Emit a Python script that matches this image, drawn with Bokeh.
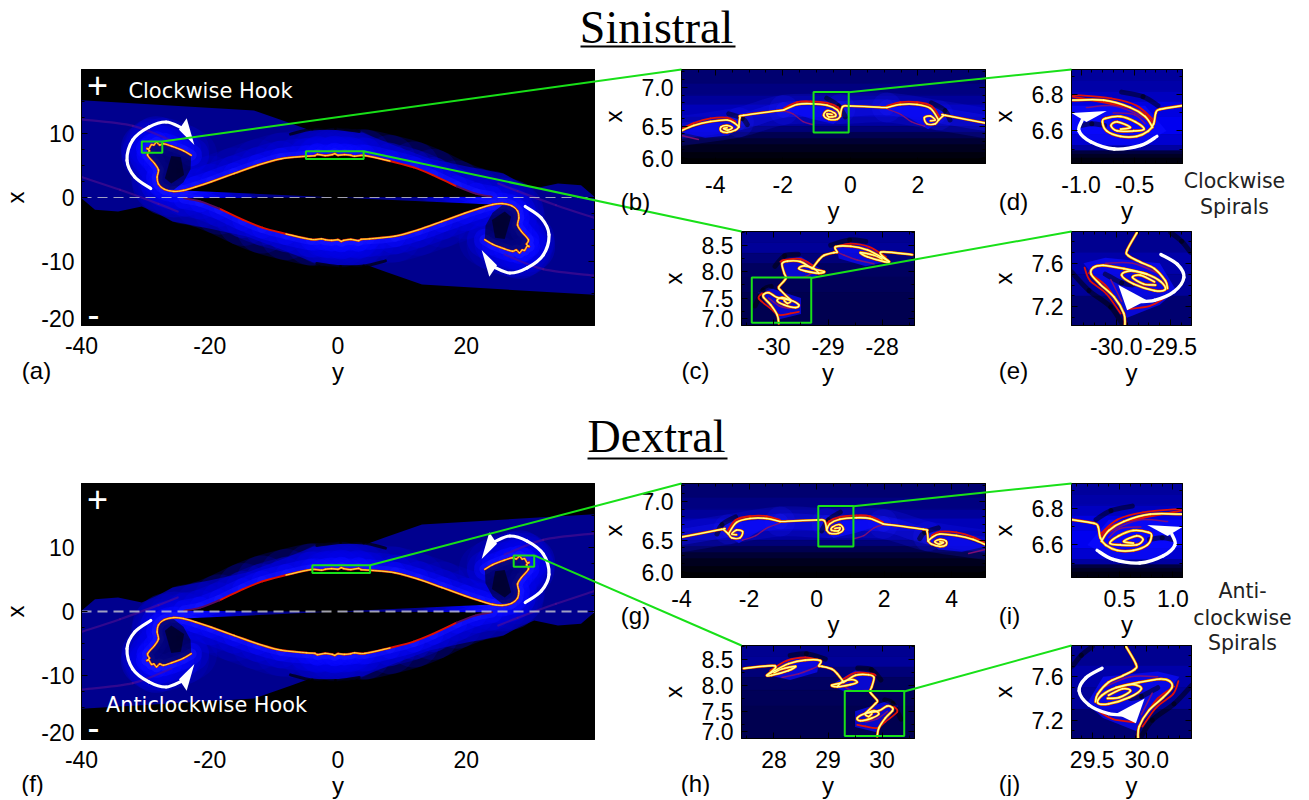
from bokeh.plotting import figure
from bokeh.models import Range1d, FixedTicker, LinearAxis, CustomJSTickFormatter, Column
from bokeh.embed import file_html
from bokeh.resources import INLINE
from bokeh.core.properties import value

# ---- panel (a) values: (y, x)
ENV_TOP_Y = [-40, -13.1, -7.4, -4.6, -0.4, 3.9, 8.1, 14.2, 20.3, 25.8, 28.2, 30.6, 34.3, 37.9, 40]
ENV_TOP_X = [15.2, 13.6, 11.6, 10.6, 10.6, 10.1, 8.4, 6.1, 4.8, 3.75, 2.45, 1.4, 2.2, 1.9, 0.1]
FIL_Y = [-22.9, -24.1, -25.9, -27.2, -27.8, -28.3, -28.7, -29.1, -29.5, -29.8, -29.4, -29.7, -28.6, -28.0, -28.2, -28.0,
         -27.1, -25.6, -24.1, -22.2, -19.8, -16.2, -12.5, -8.9, -4.9, -3.6, -3.2, -2.0, -0.9, -0.5, 0, 1.0, 2.0, 2.6, 4.2, 8.1]
FIL_X = [6.6, 7.3, 8.0, 8.4, 8.2, 8.65, 8.2, 8.25, 7.6, 7.65, 7.3, 6.6, 5.3, 4.3, 3.2, 2.1,
         1.3, 0.95, 1.1, 1.65, 2.45, 3.75, 5.05, 6.05, 6.45, 6.55, 6.75, 6.55, 6.7, 6.85, 6.6, 6.7, 6.6, 6.45, 6.55, 5.7]
RED_Y = [8.1, 11.8, 14.8, 18.5]
RED_X = [5.7, 4.7, 3.5, 1.75]
FAINT_Y = [18.5, 21.5, 24]
FAINT_X = [1.75, 0.6, 0.1]
EYE_Y = [-24.1, -22.2, -19.8, -16.2, -12.5, -8.9, -4.9, -0.4, 4.2, 8.1, 11.8, 14.8, 18.5, 21.5, 24]
EYE_X = [1.1, 1.65, 2.45, 3.75, 5.05, 6.05, 6.45, 6.65, 6.55, 5.7, 4.7, 3.5, 1.75, 0.6, 0.1]
HOOK_Y = [-22.9, -24.1, -25.9, -27.2, -28.3, -29.8, -29.7, -28.6, -28.0, -28.2, -28.0, -27.1, -25.6, -24.1, -23.0]
HOOK_X = [6.6, 7.3, 8.0, 8.4, 8.65, 7.65, 6.6, 5.3, 4.3, 3.2, 2.1, 1.3, 1.2, 2.4, 4.4]
HOOK_CORE_Y = [-27, -26, -24.5, -24, -26]
HOOK_CORE_X = [3, 6.5, 6.3, 3.5, 2.2]
STREAK_Y = [[-40, -32, -26], [-40, -34, -28, -25]]
STREAK_X = [[12.2, 11.2, 8.9], [3.2, 1.2, -1.0, -2.2]]
CRESCENT_Y = [-7.4, -4, -0.4, 3.3]
CRESCENT_X = [9.9, 10.7, 10.8, 10.3]
ARROW_A_Y = [-29.2, -31.7, -32.9, -32, -29.5, -26.8, -24.4]
ARROW_A_X = [1.4, 3.2, 5.8, 9, 11, 11.8, 10.9]
HEAD_A_Y = [-23.6, -22.4, -24.8]
HEAD_A_X = [12.4, 8.2, 10.6]

# ---- panel (b)
B_ARCS_Y = [[-5.01, -4.64, -4.14, -3.65, -3.43, -3.30], [-1.97, -1.58, -1.18, -0.69, -0.39, -0.30], [1.08, 1.48, 1.97, 2.37, 2.61]]
B_ARCS_X = [[6.44, 6.51, 6.56, 6.58, 6.54, 6.49], [6.71, 6.78, 6.79, 6.77, 6.71, 6.63], [6.74, 6.78, 6.78, 6.73, 6.58]]
B_MAIN_Y = [[-3.30, -3.40, -3.65, -3.83, -3.83, -3.65, -3.50, -3.63, -3.75, -3.65],
            [-3.30, -3.27, -3.16, -1.97],
            [-0.30, -0.39, -0.64, -0.79, -0.69, -0.47, -0.44, -0.64, -0.69, -0.54],
            [-0.30, -0.23, 0, 1.08],
            [2.61, 2.51, 2.27, 2.19, 2.37, 2.51, 2.37],
            [2.61, 2.76, 2.81, 4.0]]
B_MAIN_X = [[6.49, 6.45, 6.42, 6.44, 6.49, 6.51, 6.48, 6.45, 6.47, 6.48],
            [6.49, 6.61, 6.64, 6.71],
            [6.63, 6.59, 6.59, 6.64, 6.70, 6.67, 6.63, 6.62, 6.66, 6.65],
            [6.63, 6.75, 6.76, 6.74],
            [6.58, 6.53, 6.53, 6.61, 6.63, 6.58, 6.57],
            [6.58, 6.64, 6.64, 6.54]]
B_RED_Y = [[-5.01, -4.64, -4.14, -3.65, -3.40], [-1.97, -1.58, -1.18, -0.69, -0.36, -0.27], [1.08, 1.48, 1.97, 2.40, 2.66]]
B_RED_X = [[6.46, 6.54, 6.60, 6.61, 6.56], [6.73, 6.81, 6.82, 6.80, 6.74, 6.65], [6.76, 6.81, 6.81, 6.76, 6.60]]
B_PURPLE_Y = [[-1.97, -1.7, -1.4, -1.1], [1.1, 1.5, 1.8, 2.2], [-5, -4.5]]
B_PURPLE_X = [[6.70, 6.66, 6.56, 6.52], [6.72, 6.65, 6.56, 6.50], [6.38, 6.33]]
B_LOBE_Y = [[-5, -4.5, -4, -3.3, -3.6, -4.3], [-1.97, -1.5, -0.8, -0.3, -0.5, -1.2], [1.1, 1.7, 2.4, 2.6, 2.3, 1.7]]
B_LOBE_X = [[6.42, 6.5, 6.55, 6.5, 6.38, 6.35], [6.71, 6.76, 6.75, 6.6, 6.53, 6.6], [6.73, 6.76, 6.72, 6.55, 6.46, 6.62]]
B_DARK_Y = [[-0.7, -0.35, -0.15], [-3.6, -3.2, -3.05], [2.4, 2.8, 2.95]]
B_DARK_X = [[6.86, 6.76, 6.62], [6.66, 6.60, 6.52], [6.80, 6.70, 6.58]]
B_GLOW_Y = [[-5.01, -3.3, -1.97, -0.3, 1.08, 2.61, 4.0]]
B_GLOW_X = [[6.44, 6.55, 6.71, 6.72, 6.74, 6.64, 6.54]]
B_BG_LEVELS = [7.23, 7.05, 6.9, 6.78, 6.62, 6.5, 6.42, 6.34, 6.26, 6.16, 6.08, 6.02]
B_BG_COLORS = ["#000070", "#000080", "#00009a", "#0000b8", "#0000a0", "#000078", "#000050", "#000034", "#00001e", "#00000e", "#000004"]

# ---- panel (c)
C_MAIN_Y = [[-29.91, -29.94, -30.06, -30.19, -30.19, -30.09, -29.94, -29.69, -29.54, -29.6, -29.81, -29.94, -29.85, -29.69, -29.75, -29.81],
            [-29.69, -29.88, -29.91, -29.78, -29.81, -29.85, -29.75, -29.51, -29.29, -29.07, -29.17, -29.41, -29.54, -29.44, -29.26, -29.17],
            [-29.29, -29.17, -29.07, -28.89, -28.83, -28.86, -28.58, -28.27, -28.02, -27.87, -27.96, -28.27, -28.4, -28.15, -28.0],
            [-27.87, -28.02, -27.44]]
C_MAIN_X = [[7.02, 7.18, 7.37, 7.51, 7.57, 7.6, 7.51, 7.46, 7.37, 7.32, 7.37, 7.45, 7.51, 7.45, 7.4, 7.45],
            [7.46, 7.65, 7.71, 7.87, 7.97, 8.15, 8.2, 8.19, 8.06, 8.0, 7.97, 8.01, 8.06, 8.11, 8.06, 7.97],
            [8.06, 8.22, 8.31, 8.36, 8.37, 8.47, 8.48, 8.41, 8.28, 8.19, 8.19, 8.28, 8.36, 8.31, 8.24],
            [8.19, 8.37, 8.32]]
C_RED_Y = [[-30.22, -30.28, -30.06, -29.91, -29.69, -29.54], [-29.88, -29.81, -29.51, -29.26], [-28.83, -28.58, -28.24, -27.93]]
C_RED_X = [[7.59, 7.49, 7.3, 7.18, 7.21, 7.24], [8.19, 8.22, 8.24, 8.1], [8.48, 8.53, 8.47, 8.28]]
C_PURPLE_Y = [[-28.83, -28.7, -28.46, -28.15], [-29.75, -29.44, -29.26], [-30.1, -29.9, -29.7]]
C_PURPLE_X = [[8.37, 8.31, 8.22, 8.15], [7.9, 7.9, 8.0], [7.5, 7.35, 7.3]]
C_LOBE_Y = [[-30.3, -30.1, -29.5, -29.5, -29.9], [-29.9, -29.5, -29.05, -29.3, -29.8], [-28.85, -28.3, -27.85, -28.3, -28.8]]
C_LOBE_X = [[7.6, 7.7, 7.5, 7.2, 7.1], [8.2, 8.28, 8.0, 7.88, 7.88], [8.5, 8.5, 8.2, 8.1, 8.25]]
C_DARK_Y = [[-30.35, -30.2, -30.05], [-29.98, -29.8, -29.55], [-28.95, -28.6, -28.3]]
C_DARK_X = [[7.35, 7.65, 7.72], [8.1, 8.3, 8.33], [8.5, 8.6, 8.57]]
C_BG_LEVELS = [8.76, 8.55, 8.35, 8.15, 7.9, 7.6, 6.98]
C_BG_COLORS = ["#000090", "#000098", "#000078", "#000060", "#000058", "#000050"]

# ---- panel (d)
D_MAIN_Y = [[-0.05, -0.26, -0.30, -0.32, -0.37, -0.48, -0.63, -0.76, -0.80, -0.77, -0.63, -0.49, -0.41, -0.51, -0.66, -0.72, -0.66, -0.54, -0.63],
            [-1.08, -0.79, -0.54, -0.40, -0.33]]
D_MAIN_X = [[6.74, 6.72, 6.70, 6.64, 6.60, 6.57, 6.57, 6.60, 6.65, 6.67, 6.68, 6.65, 6.61, 6.60, 6.60, 6.63, 6.65, 6.62, 6.61],
            [6.77, 6.77, 6.73, 6.68, 6.62]]
D_RED_Y = [[-1.08, -0.72, -0.48, -0.32], [-1.08, -0.72, -0.45, -0.33]]
D_RED_X = [[6.80, 6.78, 6.74, 6.66], [6.79, 6.75, 6.71, 6.65]]
D_PURPLE_Y = [[-0.95, -0.7, -0.5, -0.38], [-0.7, -0.5, -0.4]]
D_PURPLE_X = [[6.73, 6.74, 6.70, 6.66], [6.70, 6.69, 6.64]]
D_LOBE_Y = [[-1.09, -0.4, -0.2, -0.45, -0.8, -1.09]]
D_LOBE_X = [[6.74, 6.74, 6.6, 6.52, 6.52, 6.6]]
D_DARK_Y = [[-0.62, -0.42, -0.28], [-1.0, -0.9, -0.78]]
D_DARK_X = [[6.815, 6.79, 6.74], [6.63, 6.64, 6.63]]
D_BG_LEVELS = [6.94, 6.88, 6.82, 6.76, 6.68, 6.58, 6.52, 6.49, 6.47, 6.45, 6.42]
D_BG_COLORS = ["#00009c", "#0000a8", "#0000c0", "#0000e0", "#0000f0", "#0000d0", "#0000a0", "#000040", "#000024", "#000010"]
D_ARROW_Y = [-0.29, -0.44, -0.69, -0.91, -1.02, -0.99]
D_ARROW_X = [6.57, 6.52, 6.50, 6.54, 6.60, 6.66]
D_HEAD_Y = [-1.09, -0.76, -0.95]
D_HEAD_X = [6.70, 6.71, 6.65]

# ---- panel (e)
E_MAIN_Y = [[-29.92, -29.93, -30.02, -30.15, -30.23, -30.21, -30.12, -29.93, -29.72, -29.59, -29.55, -29.65, -29.84, -29.95, -29.87, -29.72],
            [-29.64, -29.75, -29.85, -29.78, -29.65],
            [-29.81, -29.90, -29.89, -29.78, -29.65, -29.55, -29.53]]
E_MAIN_X = [[7.03, 7.14, 7.29, 7.41, 7.50, 7.56, 7.58, 7.55, 7.50, 7.43, 7.36, 7.35, 7.41, 7.49, 7.53, 7.50],
            [7.40, 7.41, 7.47, 7.49, 7.43],
            [7.88, 7.72, 7.67, 7.61, 7.55, 7.44, 7.37]]
E_RED_Y = [[-30.29, -30.24, -30.09, -29.96], [-29.89, -29.69, -29.56], [-30.25, -30.1, -29.97]]
E_RED_X = [[7.56, 7.44, 7.32, 7.14], [7.18, 7.21, 7.28], [7.51, 7.40, 7.22]]
E_PURPLE_Y = [[-30.1, -29.85, -29.6], [-30.05, -29.95]]
E_PURPLE_X = [[7.60, 7.60, 7.50], [7.45, 7.25]]
E_LOBE_Y = [[-30.3, -30.1, -29.6, -29.45, -29.6, -29.9]]
E_LOBE_X = [[7.6, 7.65, 7.6, 7.35, 7.22, 7.1]]
E_DARK_Y = [[-30.41, -30.25, -30.05, -29.95], [-30.1, -29.95, -29.85], [-29.5, -29.4, -29.32]]
E_DARK_X = [[7.52, 7.35, 7.2, 7.05], [7.5, 7.42, 7.40], [7.88, 7.8, 7.7]]
E_BG_LEVELS = [7.89, 7.7, 7.5, 7.3, 7.03]
E_BG_COLORS = ["#000090", "#0000a8", "#000098", "#000070"]
E_ARROW_Y = [-29.59, -29.44, -29.38, -29.47, -29.65, -29.80]
E_ARROW_X = [7.68, 7.59, 7.47, 7.34, 7.26, 7.25]
E_HEAD_Y = [-29.98, -29.9, -29.72]
E_HEAD_X = [7.40, 7.17, 7.26]

# ---- ticks
A_XT = [-40, -20, 0, 20]
A_XL = ["-40", "-20", "0", "20"]
A_YT = [10, 0, -10, -18.9]
A_YL = ["10", "0", "-10", "-20"]
B_YT = [7.0, 6.5, 6.09]
B_YL = ["7.0", "6.5", "6.0"]
C_YT = [8.5, 8.0, 7.5, 7.12]
C_YL = ["8.5", "8.0", "7.5", "7.0"]
D_YT = [6.8, 6.6]
D_YL = ["6.8", "6.6"]
E_YT = [7.6, 7.2]
E_YL = ["7.6", "7.2"]

TITLES = ["Sinistral", "Dextral"]
PANEL_TAGS = ["(a)", "(b)", "(c)", "(d)", "(e)", "(f)", "(g)", "(h)", "(i)", "(j)"]

# all children of one Column share their left and right borders, so they all use the same L and R
L, R, T, B = 90, 8, 8, 62
FONT = "Liberation Sans"
GREEN = "#18e018"


def neg(a):
    return [-v for v in a]


def neg2(a):
    return [[-v for v in s] for s in a]


def rev(a):
    return list(reversed(a))


def make(frame, xr, yr, xticks, xlabels, yticks, ylabels, xstand, ystand, lstand, xmin, ymin):
    left, top, right, bottom = frame
    p = figure(width=right - left + L + R, height=bottom - top + T + B, output_backend="svg", toolbar_location=None,
               x_range=Range1d(*xr), y_range=Range1d(*yr), min_border_left=L, min_border_right=R, min_border_top=T,
               min_border_bottom=B, background_fill_color="black", border_fill_alpha=0, outline_line_color="black",
               tools="")
    p.grid.visible = False
    p.add_layout(LinearAxis(), "above")
    p.add_layout(LinearAxis(), "right")
    for ax, tk, lb, st, mn in ((p.below[0], xticks, xlabels, xstand, xmin), (p.left[0], yticks, ylabels, ystand, ymin),
                               (p.above[0], xticks, None, 0, xmin), (p.right[0], yticks, None, 0, ymin)):
        ax.ticker = FixedTicker(ticks=tk, minor_ticks=mn)
        if lb:
            ax.major_label_overrides = {(int(k) if float(k).is_integer() else float(k)): l for k, l in zip(tk, lb)}
        else:
            ax.formatter = CustomJSTickFormatter(code="return ''")
        ax.major_label_text_font = FONT
        ax.major_label_text_font_size = "23px"
        ax.major_label_text_color = "black"
        ax.major_label_standoff = st
        ax.major_tick_in = 6
        ax.major_tick_out = 0
        ax.minor_tick_in = 3
        ax.minor_tick_out = 0
        ax.major_tick_line_color = "black"
        ax.minor_tick_line_color = "black"
        ax.axis_line_color = "black"
        ax.axis_label_text_font = FONT
        ax.axis_label_text_font_style = "normal"
        ax.axis_label_text_font_size = "24px"
        ax.axis_label_text_color = "black"
    p.below[0].axis_label = "y"
    p.left[0].axis_label = "x"
    p.below[0].axis_label_standoff = 1
    p.left[0].axis_label_standoff = lstand
    p.styles = {"position": "absolute", "left": f"{left}px", "top": f"{top - T}px"}
    return p


def sm(p, ys, xs, **kw):
    """draw each read polyline as a smooth path through its read points"""
    x0, y0, x1, y1, a0, b0, a1, b1 = [], [], [], [], [], [], [], []
    for yy, xx in zip(ys, xs):
        n = len(yy)
        for k in range(n - 1):
            i0, i3 = max(k - 1, 0), min(k + 2, n - 1)
            x0.append(yy[k]); y0.append(xx[k]); x1.append(yy[k + 1]); y1.append(xx[k + 1])
            a0.append(yy[k] + (yy[k + 1] - yy[i0]) / 6); b0.append(xx[k] + (xx[k + 1] - xx[i0]) / 6)
            a1.append(yy[k + 1] - (yy[i3] - yy[k]) / 6); b1.append(xx[k + 1] - (xx[i3] - xx[k]) / 6)
    p.bezier(x0, y0, x1, y1, a0, b0, a1, b1, line_cap="round", **kw)


def bands(p, xr, levels, colors):
    p.quad(left=[xr[0]] * len(colors), right=[xr[1]] * len(colors), top=levels[:-1], bottom=levels[1:],
           fill_color=colors, line_color=colors, line_width=0.5)


def filament(p, ys, xs, core="#ffe060", edge="#ff8a10", w=1.0):
    sm(p, ys, xs, line_color="#d01000", line_width=3.2 * w, line_alpha=0.9)
    sm(p, ys, xs, line_color=edge, line_width=2.4 * w)
    sm(p, ys, xs, line_color=core, line_width=1.3 * w)


def panel_a(p, s, dash_w):
    """s = 1 for the sinistral panel, -1 for the dextral mirror in y."""
    f = lambda a: [s * v for v in a]
    ey = ENV_TOP_Y + neg(ENV_TOP_Y)
    ex = ENV_TOP_X + neg(ENV_TOP_X)
    p.patch(f(ey), ex, fill_color="#00008e", line_color=None)
    full_y = FIL_Y + RED_Y[1:] + FAINT_Y[1:]
    full_x = FIL_X + RED_X[1:] + FAINT_X[1:]
    for lw, col, al in ((52, "#0000d0", 0.22), (36, "#0000e8", 0.28), (22, "#0808ff", 0.38), (11, "#1414ff", 0.5)):
        sm(p, [f(full_y), f(neg(full_y))], [full_x, neg(full_x)], line_color=col, line_width=lw, line_alpha=al)
    sm(p, [f(v) for v in STREAK_Y] + [f(neg(v)) for v in STREAK_Y], STREAK_X + neg2(STREAK_X),
       line_color="#5a0f90", line_width=2.2, line_alpha=0.55)
    p.patch(f(EYE_Y + rev(neg(EYE_Y))), EYE_X + rev(neg(EYE_X)), fill_color="black", line_color=None)
    for hy, hx, al in ((HOOK_Y, HOOK_X, 0.55), (HOOK_CORE_Y, HOOK_CORE_X, 0.7)):
        p.patch(f(hy), hx, fill_color="#000018", fill_alpha=al, line_color=None)
        p.patch(f(neg(hy)), neg(hx), fill_color="#000018", fill_alpha=al, line_color=None)
    sm(p, [f(CRESCENT_Y), f(neg(CRESCENT_Y))], [CRESCENT_X, neg(CRESCENT_X)], line_color="black", line_width=3, line_alpha=0.7)
    sm(p, [f(RED_Y), f(neg(RED_Y))], [RED_X, neg(RED_X)], line_color="#e01000", line_width=2.0)
    sm(p, [f(FAINT_Y), f(neg(FAINT_Y))], [FAINT_X, neg(FAINT_X)], line_color="#5a0a60", line_width=2)
    filament(p, [f(FIL_Y), f(neg(FIL_Y))], [FIL_X, neg(FIL_X)], core="#ffe050", edge="#f07a08", w=0.72)
    p.line([-40, 40], [0, 0], line_color="#c8c8d0", line_width=dash_w, line_alpha=0.8, line_dash="10 6")
    sm(p, [f(ARROW_A_Y), f(neg(ARROW_A_Y))], [ARROW_A_X, neg(ARROW_A_X)], line_color="white", line_width=3.2)
    p.patch(f(HEAD_A_Y), HEAD_A_X, fill_color="white", line_color=None)
    p.patch(f(neg(HEAD_A_Y)), neg(HEAD_A_X), fill_color="white", line_color=None)


def panel_zoom(p, s, xr, lev, cols, lobes, darks, purple, red, main, glow=None, arrow=None, w=1.3):
    f = lambda a: [[s * v for v in q] for q in a]
    bands(p, xr, lev, cols)
    if glow:
        for lw, al in ((30, 0.18), (16, 0.28)):
            sm(p, f(glow[0]), glow[1], line_color="#1818ff", line_width=lw, line_alpha=al)
    p.patches(f(lobes[0]), lobes[1], fill_color="#0c0cff", fill_alpha=0.7, line_color=None)
    sm(p, f(darks[0]), darks[1], line_color="black", line_width=5, line_alpha=0.5)
    sm(p, f(purple[0]), purple[1], line_color="#8a1070", line_width=1.5, line_alpha=0.9)
    sm(p, f(red[0]), red[1], line_color="#e01008", line_width=1.8)
    filament(p, f(main[0]), main[1], core="#ffffa8", edge="#ffc800", w=w)
    if arrow:
        sm(p, [[s * v for v in arrow[0]]], [arrow[1]], line_color="white", line_width=3.4)
        p.patch([s * v for v in arrow[2]], arrow[3], fill_color="white", line_color=None)


def green_box(p, xr, yr):
    p.quad(left=[xr[0]], right=[xr[1]], bottom=[yr[0]], top=[yr[1]], fill_alpha=0, line_color=GREEN, line_width=2)


RX = {"b": (-5, 4), "c": (-30.6, -27.4), "d": (-1.09, -0.05), "e": (-30.41, -29.31)}
RY = {"b": (6.02, 7.23), "c": (6.98, 8.76), "d": (6.42, 6.94), "e": (7.03, 7.89)}
m = lambda r: (-r[1], -r[0])

FR = {"a": (81, 69, 594, 325), "b": (681, 69, 985, 164), "c": (741, 231, 914, 326), "d": (1071, 69, 1182, 164), "e": (1071, 231, 1191, 326),
      "f": (81, 483, 594, 739), "g": (681, 483, 985, 578), "h": (741, 645, 914, 739), "i": (1071, 483, 1182, 578), "j": (1071, 645, 1191, 739)}

A_RX, A_RY = (-40, 40), (-20, 20)
A_XM = [-35, -30, -25, -15, -10, -5, 5, 10, 15, 25, 30, 35]
A_YM = [-15, -12.5, -7.5, -5, -2.5, 2.5, 5, 7.5, 12.5, 15, 17.5]
B_XM = [-4.5, -3.5, -3, -2.5, -1.5, -1, -0.5, 0.5, 1, 1.5, 2.5, 3, 3.5]
G_XM = [-3.5, -3, -2.5, -1.5, -1, -0.5, 0.5, 1, 1.5, 2.5, 3, 3.5, 4.5]
B_YM = [6.1, 6.2, 6.3, 6.4, 6.6, 6.7, 6.8, 6.9, 7.1, 7.2]
C_XM = [-30.5, -29.5, -28.5, -27.5]
H_XM = [27.5, 28.5, 29.5, 30.5]
C_YM = [7.25, 7.75, 8.25, 8.75]
D_XM = [-0.9, -0.8, -0.7, -0.6, -0.4, -0.3, -0.2, -0.1]
I_XM = [0.1, 0.2, 0.3, 0.4, 0.6, 0.7, 0.8, 0.9]
D_YM = [6.5, 6.7, 6.9]
E_XM = [-30.3, -30.2, -30.1, -29.9, -29.8, -29.7, -29.6, -29.4]
J_XM = [29.4, 29.6, 29.7, 29.8, 29.9, 30.1, 30.2, 30.3]
E_YM = [7.1, 7.3, 7.4, 7.5, 7.7, 7.8]

figs = []

a = make(FR["a"], A_RX, A_RY, A_XT, A_XL, A_YT, A_YL, 11, 7, 9, A_XM, A_YM)
panel_a(a, 1, 1.2)
green_box(a, RX["c"], RY["c"])
green_box(a, RX["b"], RY["b"])
figs.append(a)

f_ = make(FR["f"], A_RX, A_RY, A_XT, A_XL, A_YT, A_YL, 11, 7, 9, A_XM, A_YM)
panel_a(f_, -1, 2)
green_box(f_, m(RX["c"]), RY["c"])
green_box(f_, m(RX["b"]), RY["b"])
figs.append(f_)

BB = dict(lev=B_BG_LEVELS, cols=B_BG_COLORS, lobes=(B_LOBE_Y, B_LOBE_X), darks=(B_DARK_Y, B_DARK_X), purple=(B_PURPLE_Y, B_PURPLE_X),
          red=(B_RED_Y, B_RED_X), main=(B_ARCS_Y + B_MAIN_Y, B_ARCS_X + B_MAIN_X), glow=(B_GLOW_Y, B_GLOW_X), w=0.85)
b = make(FR["b"], RX["b"], RY["b"], [-4, -2, 0, 2], ["-4", "-2", "0", "2"], B_YT, B_YL, 12, 8, 12, B_XM, B_YM)
panel_zoom(b, 1, RX["b"], **BB)
green_box(b, RX["d"], RY["d"])
figs.append(b)
g = make(FR["g"], m(RX["b"]), RY["b"], [-4, -2, 0, 2, 4], ["-4", "-2", "0", "2", "4"], B_YT, B_YL, 12, 8, 12, G_XM, B_YM)
panel_zoom(g, -1, m(RX["b"]), **BB)
green_box(g, m(RX["d"]), RY["d"])
figs.append(g)

CC = dict(lev=C_BG_LEVELS, cols=C_BG_COLORS, lobes=(C_LOBE_Y, C_LOBE_X), darks=(C_DARK_Y, C_DARK_X), purple=(C_PURPLE_Y, C_PURPLE_X),
          red=(C_RED_Y, C_RED_X), main=(C_MAIN_Y, C_MAIN_X), w=0.9)
c = make(FR["c"], RX["c"], RY["c"], [-30, -29, -28], ["-30", "-29", "-28"], C_YT, C_YL, 12, 8, 12, C_XM, C_YM)
panel_zoom(c, 1, RX["c"], **CC)
green_box(c, RX["e"], RY["e"])
figs.append(c)
h = make(FR["h"], m(RX["c"]), RY["c"], [28, 29, 30], ["28", "29", "30"], C_YT, C_YL, 12, 8, 12, H_XM, C_YM)
panel_zoom(h, -1, m(RX["c"]), **CC)
green_box(h, m(RX["e"]), RY["e"])
figs.append(h)

DD = dict(lev=D_BG_LEVELS, cols=D_BG_COLORS, lobes=(D_LOBE_Y, D_LOBE_X), darks=(D_DARK_Y, D_DARK_X), purple=(D_PURPLE_Y, D_PURPLE_X),
          red=(D_RED_Y, D_RED_X), main=(D_MAIN_Y, D_MAIN_X), arrow=(D_ARROW_Y, D_ARROW_X, D_HEAD_Y, D_HEAD_X), w=0.95)
d = make(FR["d"], RX["d"], RY["d"], [-1.0, -0.5], ["-1.0", "-0.5"], D_YT, D_YL, 12, 8, 12, D_XM, D_YM)
panel_zoom(d, 1, RX["d"], **DD)
figs.append(d)
i = make(FR["i"], m(RX["d"]), RY["d"], [0.5, 1.0], ["0.5", "1.0"], D_YT, D_YL, 12, 8, 12, I_XM, D_YM)
panel_zoom(i, -1, m(RX["d"]), **DD)
figs.append(i)

EE = dict(lev=E_BG_LEVELS, cols=E_BG_COLORS, lobes=(E_LOBE_Y, E_LOBE_X), darks=(E_DARK_Y, E_DARK_X), purple=(E_PURPLE_Y, E_PURPLE_X),
          red=(E_RED_Y, E_RED_X), main=(E_MAIN_Y, E_MAIN_X), arrow=(E_ARROW_Y, E_ARROW_X, E_HEAD_Y, E_HEAD_X), w=0.95)
e = make(FR["e"], RX["e"], RY["e"], [-30.0, -29.5], ["-30.0", "-29.5"], E_YT, E_YL, 12, 8, 12, E_XM, E_YM)
panel_zoom(e, 1, RX["e"], **EE)
figs.append(e)
j = make(FR["j"], m(RX["e"]), RY["e"], [29.5, 30.0], ["29.5", "30.0"], E_YT, E_YL, 12, 8, 12, J_XM, E_YM)
panel_zoom(j, -1, m(RX["e"]), **EE)
figs.append(j)

# transparent page-wide overlay in page pixels: titles, tags, connectors
OV_W, OV_H = 1296, 796
ov = figure(width=OV_W + L + R, height=OV_H, output_backend="svg", toolbar_location=None, x_range=Range1d(0, OV_W), y_range=Range1d(OV_H, 0),
            x_axis_type=None, y_axis_type=None, min_border_left=L, min_border_right=R, min_border_top=0, min_border_bottom=0,
            background_fill_alpha=0, border_fill_alpha=0, outline_line_color=None, tools="")
ov.grid.visible = False
ov.styles = {"position": "absolute", "left": "0px", "top": "0px", "pointer-events": "none"}


def to_px(fr, rx, ry, yv, xv):
    return (fr[0] + (yv - rx[0]) / (rx[1] - rx[0]) * (fr[2] - fr[0]), fr[3] - (xv - ry[0]) / (ry[1] - ry[0]) * (fr[3] - fr[1]))


conn = [
    (to_px(FR["a"], A_RX, A_RY, RX["c"][1], RY["c"][1]), (FR["b"][0], FR["b"][1])),
    (to_px(FR["a"], A_RX, A_RY, RX["b"][1], RY["b"][1]), (FR["c"][0], FR["c"][1])),
    (to_px(FR["b"], RX["b"], RY["b"], RX["d"][1], RY["d"][1]), (FR["d"][0], FR["d"][1])),
    (to_px(FR["c"], RX["c"], RY["c"], RX["e"][1], RY["e"][1]), (FR["e"][0], FR["e"][1])),
    (to_px(FR["f"], A_RX, A_RY, m(RX["b"])[1], RY["b"][1]), (FR["g"][0], FR["g"][1])),
    (to_px(FR["f"], A_RX, A_RY, m(RX["c"])[1], RY["c"][1]), (FR["h"][0], FR["h"][1])),
    (to_px(FR["g"], m(RX["b"]), RY["b"], m(RX["d"])[1], RY["d"][1]), (FR["i"][0], FR["i"][1])),
    (to_px(FR["h"], m(RX["c"]), RY["c"], m(RX["e"])[1], RY["e"][1]), (FR["j"][0], FR["j"][1])),
]
ov.multi_line([[u[0], v[0]] for u, v in conn], [[u[1], v[1]] for u, v in conn], line_color=GREEN, line_width=2)


def txt(x, y, s, size, font=FONT, color="black", align="center"):
    ov.text(x=[x], y=[y], text=[s], text_font=value(font), text_font_size=size, text_color=color, text_align=align, text_baseline="middle")


txt(656, 27, TITLES[0], "46px", "Liberation Serif")
txt(656, 436, TITLES[1], "46px", "Liberation Serif")
ov.multi_line([[580, 735], [587, 727]], [[46, 46], [458, 458]], line_color="black", line_width=2)
tags = [(36, 370), (635, 201), (695, 370), (1013, 201), (1013, 370), (32, 783), (635, 615), (695, 783), (1009, 615), (1009, 783)]
for (x, y), s in zip(tags, PANEL_TAGS):
    txt(x, y, s, "24px")
txt(210, 90, "Clockwise Hook", "21px", "DejaVu Sans", "white")
txt(206, 704, "Anticlockwise Hook", "20.8px", "DejaVu Sans", "white")
for x, y, s, sz in ((97, 84, "+", "36px"), (93, 313, "-", "36px"), (97, 498, "+", "36px"), (93, 726, "-", "36px")):
    txt(x, y, s, sz, FONT, "white")
for y, s in ((180, "Clockwise"), (206, "Spirals")):
    txt(1234, y, s, "20.5px", "DejaVu Sans", "#222222")
for y, s in ((590, "Anti-"), (617, "clockwise"), (642, "Spirals")):
    txt(1242, y, s, "20.5px", "DejaVu Sans", "#222222")
figs.append(ov)

# the shared border L hangs off the left of the page, so the root is as wide as the overlay and moved left by L
root = Column(children=figs, width=OV_W + L + R, height=OV_H, styles={"position": "relative", "left": f"{-L}px"})
open("out.html", "w").write(file_html(root, INLINE))
